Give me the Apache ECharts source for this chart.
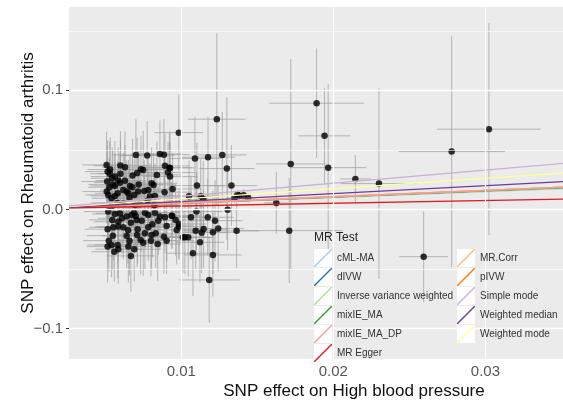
<!DOCTYPE html>
<html>
<head>
<meta charset="utf-8">
<script src="https://cdn.jsdelivr.net/npm/echarts@6/dist/echarts.min.js"></script>
<style>html,body{margin:0;padding:0;background:#fff}#c{width:563px;height:403px}</style>
</head>
<body>
<div id="c"></div>
<script>
// ---- data ----
var snpX = [0.00509,0.00516,0.00513,0.00527,0.0051,0.0052,0.00542,0.0052,0.00516,0.00524,0.00516,0.00542,0.0056,0.0053,0.006,0.00546,0.00564,0.00586,0.00597,0.00564,0.00619,0.00641,0.00564,0.00582,0.00652,0.00691,0.00663,0.00678,0.0068,0.00735,0.0075,0.00702,0.00776,0.0086,0.00886,0.00893,0.00913,0.00922,0.0084,0.00805,0.00818,0.00717,0.00757,0.00783,0.00794,0.00827,0.00943,0.00619,0.00696,0.00728,0.00823,0.00564,0.00597,0.00641,0.00674,0.007,0.00761,0.00783,0.00827,0.0086,0.00893,0.00941,0.00546,0.00586,0.00669,0.00707,0.0074,0.00849,0.00553,0.00586,0.00619,0.00713,0.00783,0.00904,0.0097,0.00641,0.00761,0.00805,0.00832,0.00886,0.00582,0.00652,0.00691,0.00733,0.0075,0.00801,0.00845,0.00904,0.00586,0.00669,0.01011,0.00926,0.00926,0.00937,0.00963,0.00985,0.00985,
0.00984,0.01234,0.0109,0.01176,0.0127,0.0130,0.0133,0.01103,0.01051,0.01145,0.01128,0.0135,0.0138,0.0141,0.0144,0.0137,0.01625,0.01305,0.0110,0.01064,0.01174,0.01222,0.01243,0.01364,0.01147,0.01134,0.01095,0.01208,0.01024,0.01046,0.01123,0.01077,0.01208,0.01184,
0.0189,0.01942,0.01966,0.0172,0.02145,0.0230,0.02778,0.03023,0.0171,0.02594,
0.00533,0.0055,0.0060,0.0063,0.0066,0.0058,0.0054,0.0061,0.0065,0.0071,0.0055,0.0069,0.0072,0.0071,0.0078,0.0089,0.0081,0.0063,0.0066];
var snpY = [0.0374,0.0318,0.0234,0.0187,0.015,0.0122,0.0094,-0.0018,-0.0166,-0.0262,-0.0312,-0.0298,-0.0355,0.030,0.0368,0.0262,0.0276,0.0242,0.0225,0.0197,0.0164,0.015,0.0113,0.0136,0.0136,0.0122,0.0197,0.0187,0.0284,0.0338,0.0332,0.0458,0.0452,0.0466,0.046,0.0366,0.031,0.0351,0.029,0.022,0.0206,0.015,0.0155,0.0164,0.0108,0.0113,0.0172,0.0052,0.0038,0.0044,0.0035,-0.0038,-0.0032,-0.006,-0.0046,-0.0055,-0.0027,-0.0046,-0.0027,-0.006,-0.0066,-0.0055,-0.0088,-0.0103,-0.0111,-0.0088,-0.0094,-0.0094,-0.015,-0.0144,-0.015,-0.0166,-0.015,-0.0139,-0.0172,-0.0223,-0.02,-0.0214,-0.02,-0.0229,-0.0298,-0.0312,-0.0334,-0.0256,-0.0279,-0.0262,-0.029,-0.0262,-0.0334,-0.039,-0.0234,0.0276,0.0349,-0.0052,-0.0088,-0.0122,-0.0144,
0.0645,0.0758,0.0427,0.0439,0.0458,0.0343,0.020,0.020,0.0111,0.0086,0.0111,0.0095,0.0115,0.012,0.0098,0.0125,0.0055,-0.0002,-0.0018,-0.0066,-0.0066,-0.0094,-0.0161,-0.018,-0.0164,-0.0195,-0.018,-0.0192,-0.0234,-0.0234,-0.0276,-0.0368,-0.0382,-0.0592,
0.0892,0.0618,0.0351,0.0382,0.0256,0.0217,0.0486,0.0674,-0.0178,-0.0397,
0.0335,0.021,0.030,0.024,0.0095,0.0055,0.0025,-0.0075,-0.0175,-0.0215,-0.022,-0.003,0.021,0.0305,0.0075,0.0145,-0.0125,0.0355,-0.0265];
var seX = [0.0016,0.0015,0.0017,0.0014,0.0016,0.0015,0.0013,0.0016,0.0015,0.0017,0.0014,0.0016,0.0015,0.0013,0.0018,0.0014,0.0016,0.0015,0.0017,0.0016,0.0015,0.0014,0.0016,0.0015,0.0017,0.0016,0.0015,0.0014,0.0016,0.0017,0.0015,0.0016,0.0018,0.0015,0.0017,0.0016,0.0018,0.0015,0.0016,0.0017,0.0015,0.0016,0.0014,0.0017,0.0016,0.0015,0.0019,0.0016,0.0015,0.0017,0.0016,0.0015,0.0016,0.0014,0.0016,0.0015,0.0017,0.0015,0.0016,0.0017,0.0016,0.0018,0.0015,0.0016,0.0014,0.0016,0.0015,0.0017,0.0016,0.0015,0.0017,0.0016,0.0015,0.0018,0.0017,0.0016,0.0015,0.0017,0.0016,0.0018,0.0015,0.0016,0.0017,0.0015,0.0016,0.0017,0.0016,0.0018,0.0015,0.0016,0.0019,0.0018,0.0017,0.0018,0.0019,0.0018,0.0017,
0.0016,0.0019,0.0017,0.0018,0.0016,0.0018,0.0017,0.0018,0.0016,0.0017,0.0016,0.0004,0.0004,0.0004,0.0004,0.0003,0.0008,0.0016,0.0017,0.0016,0.0017,0.0018,0.0017,0.0015,0.0016,0.0017,0.0016,0.0018,0.0016,0.0017,0.0016,0.0017,0.0019,0.0020,
0.0031,0.0017,0.0025,0.0023,0.0010,0.0025,0.0035,0.0034,0.0035,0.0016,
0.0015,0.0016,0.0014,0.0016,0.0015,0.0017,0.0015,0.0016,0.0015,0.0016,0.0017,0.0015,0.0016,0.0017,0.0016,0.0018,0.0016,0.0015,0.0016];
var seY = [0.028,0.026,0.030,0.025,0.027,0.024,0.029,0.031,0.028,0.026,0.030,0.027,0.025,0.027,0.029,0.026,0.030,0.028,0.025,0.027,0.031,0.026,0.029,0.027,0.028,0.030,0.026,0.029,0.031,0.028,0.033,0.030,0.029,0.028,0.030,0.027,0.026,0.029,0.028,0.030,0.027,0.029,0.026,0.031,0.028,0.027,0.030,0.029,0.026,0.030,0.028,0.027,0.031,0.028,0.026,0.029,0.030,0.027,0.029,0.028,0.030,0.027,0.029,0.028,0.031,0.027,0.026,0.029,0.028,0.030,0.027,0.029,0.028,0.030,0.029,0.027,0.030,0.028,0.029,0.031,0.028,0.030,0.027,0.029,0.028,0.030,0.031,0.028,0.029,0.030,0.030,0.029,0.031,0.028,0.030,0.029,0.028,
0.032,0.072,0.035,0.034,0.036,0.060,0.034,0.036,0.030,0.032,0.031,0.004,0.004,0.005,0.004,0.004,0.026,0.034,0.033,0.035,0.032,0.034,0.036,0.031,0.033,0.034,0.032,0.035,0.031,0.033,0.034,0.036,0.035,0.036,
0.046,0.040,0.070,0.088,0.020,0.080,0.097,0.089,0.044,0.038,
0.027,0.029,0.028,0.030,0.027,0.029,0.028,0.030,0.028,0.027,0.029,0.031,0.028,0.030,0.027,0.029,0.028,0.030,0.029];

var methods = ['cML-MA','dIVW','Inverse variance weighted','mixIE_MA','mixIE_MA_DP','MR Egger','MR.Corr','pIVW','Simple mode','Weighted median','Weighted mode'];
var methodColors = ['#a6cee3','#1f78b4','#b2df8a','#33a02c','#fb9a99','#e31a1c','#fdbf6f','#ff7f00','#cab2d6','#6a3d9a','#ffff99'];
var intercepts = [0,0,0,0,0,0.0006,0,0,0,0,0];
var slopes = [0.50,0.52,0.515,0.52,0.535,0.23,0.535,0.535,1.10,0.665,0.87];
// drawing order of the fitted lines (last on top)
var drawOrder = ['cML-MA','dIVW','Inverse variance weighted','mixIE_MA','pIVW','MR.Corr','mixIE_MA_DP','MR Egger','Weighted median','Weighted mode','Simple mode'];

var xTicks = [0.01,0.02,0.03];
var xMinor = [0.005,0.015,0.025,0.035];
var yTicks = [-0.1,0,0.1];
var yMinor = [-0.05,0.05,0.15];
var xMin = 0.00262, xMax = 0.0351, yMin = -0.1256, yMax = 0.170;

// ---- build ----
var FONT = 'Liberation Sans, Arial, sans-serif';
var pts = snpX.map(function(x,i){return [x, snpY[i]];});
var bars = snpX.map(function(x,i){return [x, snpY[i], seX[i], seY[i]];});

var gridLines = [];
xTicks.forEach(function(v){gridLines.push({xAxis:v, lineStyle:{color:'#ffffff',width:1.3,type:'solid'}});});
xMinor.forEach(function(v){gridLines.push({xAxis:v, lineStyle:{color:'#ffffff',width:0.6,type:'solid'}});});
yTicks.forEach(function(v){gridLines.push({yAxis:v, lineStyle:{color:'#ffffff',width:1.3,type:'solid'}});});
yMinor.forEach(function(v){gridLines.push({yAxis:v, lineStyle:{color:'#ffffff',width:0.6,type:'solid'}});});

var series = [
  {type:'line', data:[], z:1, silent:true,
   markLine:{silent:true, symbol:['none','none'], label:{show:false}, animation:false, data:gridLines}},
  {type:'custom', z:2, clip:true, silent:true, data:bars, encode:{x:0,y:1},
   renderItem:function(params, api){
     var x=api.value(0), y=api.value(1), sx=api.value(2), sy=api.value(3);
     var h0=api.coord([x-sx,y]), h1=api.coord([x+sx,y]);
     var v0=api.coord([x,y-sy]), v1=api.coord([x,y+sy]);
     var st={stroke:'rgba(155,155,155,0.7)', lineWidth:1};
     return {type:'group', children:[
       {type:'line', shape:{x1:h0[0],y1:h0[1],x2:h1[0],y2:h1[1]}, style:st},
       {type:'line', shape:{x1:v0[0],y1:v0[1],x2:v1[0],y2:v1[1]}, style:st}
     ]};
   }},
  {type:'scatter', z:3, silent:true, data:pts, symbolSize:6.5, itemStyle:{color:'#000000'}}
];
drawOrder.forEach(function(m){
  var i = methods.indexOf(m);
  series.push({type:'line', name:m, z:4, silent:true, clip:true, showSymbol:false, symbol:'none',
    data:[[xMin, intercepts[i]+slopes[i]*xMin],[xMax, intercepts[i]+slopes[i]*xMax]],
    color:methodColors[i], itemStyle:{color:methodColors[i]},
    lineStyle:{color:methodColors[i], width:1.3}});
});

var diag = 'path://M0,18 L0,17 L17,0 L18,0 L18,1 L1,18 Z';
var keyRects = [];
for (var i=0;i<6;i++) keyRects.push({type:'rect', z:5, shape:{x:314,y:249+19*i,width:18,height:18}, style:{fill:'rgba(255,255,255,0.92)'}});
for (var j=0;j<5;j++) keyRects.push({type:'rect', z:5, shape:{x:457,y:249+19*j,width:18,height:18}, style:{fill:'rgba(255,255,255,0.92)'}});
keyRects.push({type:'text', z:6, x:314, y:238, style:{text:'MR Test', fill:'#222', font:'12px '+FONT, verticalAlign:'middle', align:'left'}});

function fmtY(v){ if (v===0) return '0.0'; return (v<0?'\u2212':'')+Math.abs(v).toFixed(1); }

var chart = echarts.init(document.getElementById('c'), null, {renderer:'canvas'});
chart.setOption({
  animation:false,
  backgroundColor:'#ffffff',
  textStyle:{fontFamily:FONT},
  grid:{show:true, backgroundColor:'#ebebeb', borderWidth:0, left:69, right:0, top:7, bottom:44, outerBoundsMode:'none'},
  xAxis:{type:'value', min:xMin, max:xMax,
    axisLine:{show:false}, splitLine:{show:false},
    axisTick:{show:true, length:3, lineStyle:{color:'#333',width:1}, customValues:xTicks},
    axisLabel:{show:true, customValues:xTicks, margin:5, fontSize:15, color:'#555', fontFamily:FONT,
      formatter:function(v){return v.toFixed(2);}},
    name:'SNP effect on High blood pressure', nameLocation:'middle', nameGap:24, nameMoveOverlap:false,
    nameTextStyle:{fontSize:17, color:'#111', fontFamily:FONT, padding:[0,0,0,76]}},
  yAxis:{type:'value', min:yMin, max:yMax,
    axisLine:{show:false}, splitLine:{show:false},
    axisTick:{show:true, length:3, lineStyle:{color:'#333',width:1}, customValues:yTicks},
    axisLabel:{show:true, customValues:yTicks, margin:6, fontSize:15, color:'#555', fontFamily:FONT, formatter:fmtY},
    name:'SNP effect on Rheumatoid arthritis', nameLocation:'middle', nameGap:32, nameMoveOverlap:false,
    nameTextStyle:{fontSize:17, color:'#111', fontFamily:FONT}},
  legend:[
    {orient:'vertical', left:314, top:249, padding:0, itemWidth:18, itemHeight:18, itemGap:1, z:7,
     selectedMode:false, icon:diag, data:methods.slice(0,6),
     textStyle:{fontSize:10, color:'#333', fontFamily:FONT}},
    {orient:'vertical', left:457, top:249, padding:0, itemWidth:18, itemHeight:18, itemGap:1, z:7,
     selectedMode:false, icon:diag, data:methods.slice(6),
     textStyle:{fontSize:10, color:'#333', fontFamily:FONT}}
  ],
  graphic:keyRects,
  series:series
});
</script>
</body>
</html>
